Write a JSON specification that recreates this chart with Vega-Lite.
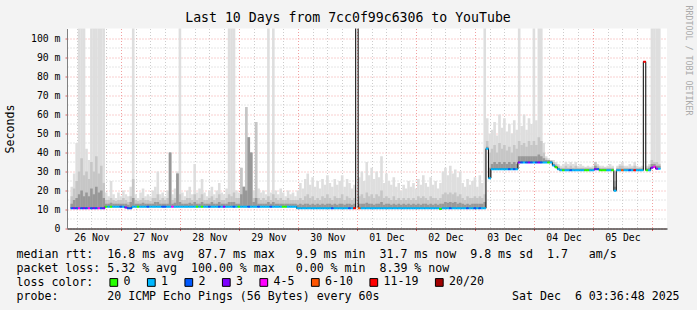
{
"$schema": "https://vega.github.io/schema/vega-lite/v6.json",
"width": 600, "height": 200,
"autosize": {"type": "none"},
"padding": {"left": 67, "top": 28.5, "right": 30, "bottom": 81.5},
"background": "#f3f3f3",
"config": {"view": {"stroke": null, "fill": "white"}, "font": "DejaVu Sans Mono"},
"title": {"text": "Last 10 Days from 7cc0f99c6306 to YouTube", "font": "DejaVu Sans Mono", "fontSize": 13.2, "fontWeight": "normal", "color": "#000000", "anchor": "middle", "dx": -19, "offset": -20},
"data": {"values": [
{"h":4,"m":10.6,"s":22,"d":17,"k":13,"l":"2"},
{"h":5,"m":10.6,"s":29,"d":21,"k":15,"l":"3"},
{"h":6,"m":10.6,"s":45,"d":25,"k":16,"l":"2"},
{"h":7,"m":10.6,"s":106,"d":30,"k":18,"l":"4-5"},
{"h":8,"m":10.6,"s":106,"d":37,"k":20,"l":"2"},
{"h":9,"m":10.6,"s":106,"d":28,"k":17,"l":"3"},
{"h":10,"m":10.6,"s":42,"d":30,"k":19,"l":"2"},
{"h":11,"m":10.6,"s":36,"d":26,"k":17,"l":"4-5"},
{"h":12,"m":10.6,"s":106,"d":35,"k":21,"l":"2"},
{"h":13,"m":10.6,"s":106,"d":30,"k":18,"l":"3"},
{"h":14,"m":10.6,"s":106,"d":38,"k":22,"l":"2"},
{"h":15,"m":10.6,"s":106,"d":29,"k":19,"l":"4-5"},
{"h":16,"m":10.6,"s":106,"d":33,"k":20,"l":"2"},
{"h":17,"m":10.6,"s":106,"d":24,"k":16,"l":"3"},
{"h":18,"m":11.5,"s":19,"d":15,"k":13,"l":"0"},
{"h":19,"m":11.5,"s":17,"d":15,"k":13,"l":"1"},
{"h":20,"m":11.5,"s":25,"d":16,"k":13.5,"l":"0"},
{"h":21,"m":11.5,"s":18,"d":15,"k":13,"l":"1"},
{"h":22,"m":11.5,"s":16,"d":14.5,"k":13,"l":"1"},
{"h":23,"m":11.5,"s":19,"d":15,"k":13,"l":"1"},
{"h":24,"m":11.5,"s":17,"d":15,"k":13,"l":"2"},
{"h":25,"m":11.5,"s":20,"d":16,"k":13,"l":"1"},
{"h":26,"m":11.0,"s":18,"d":15,"k":13,"l":"3"},
{"h":27,"m":10.6,"s":17,"d":14,"k":12.5,"l":"2"},
{"h":28,"m":10.6,"s":22,"d":17,"k":14,"l":"2"},
{"h":29,"m":11.5,"s":106,"d":26,"k":16,"l":"1"},
{"h":30,"m":11.5,"s":18,"d":15,"k":13,"l":"1"},
{"h":31,"m":11.5,"s":16,"d":14.5,"k":13,"l":"0"},
{"h":32,"m":11.5,"s":19,"d":15,"k":13,"l":"1"},
{"h":33,"m":11.5,"s":21,"d":16,"k":13.5,"l":"1"},
{"h":34,"m":11.5,"s":17,"d":15,"k":13,"l":"1"},
{"h":35,"m":11.5,"s":18,"d":15,"k":13,"l":"2"},
{"h":36,"m":11.5,"s":17,"d":14.5,"k":13,"l":"1"},
{"h":37,"m":11.5,"s":20,"d":16,"k":13,"l":"1"},
{"h":38,"m":11.5,"s":22,"d":16,"k":14,"l":"1"},
{"h":39,"m":11.5,"s":30,"d":18,"k":14,"l":"1"},
{"h":40,"m":11.5,"s":18,"d":15,"k":13,"l":"1"},
{"h":41,"m":11.5,"s":19,"d":16,"k":13,"l":"2"},
{"h":42,"m":11.5,"s":17,"d":15,"k":13,"l":"2"},
{"h":43,"m":11.5,"s":20,"d":16,"k":13,"l":"1"},
{"h":44,"m":11.5,"s":40,"d":40,"k":40,"l":"1"},
{"h":45,"m":11.5,"s":18,"d":15,"k":13,"l":"4-5"},
{"h":46,"m":11.5,"s":21,"d":16,"k":13.5,"l":"1"},
{"h":47,"m":11.5,"s":30,"d":29,"k":29,"l":"1"},
{"h":48,"m":11.5,"s":106,"d":18,"k":14,"l":"1"},
{"h":49,"m":11.5,"s":19,"d":15,"k":13,"l":"1"},
{"h":50,"m":11.5,"s":17,"d":15,"k":13,"l":"1"},
{"h":51,"m":11.5,"s":20,"d":16,"k":13,"l":"1"},
{"h":52,"m":11.5,"s":22,"d":16,"k":13.5,"l":"1"},
{"h":53,"m":11.5,"s":18,"d":15,"k":13,"l":"1"},
{"h":54,"m":11.5,"s":34,"d":18,"k":14,"l":"1"},
{"h":55,"m":11.5,"s":19,"d":15,"k":13,"l":"0"},
{"h":56,"m":11.5,"s":21,"d":16,"k":13,"l":"1"},
{"h":57,"m":11.5,"s":26,"d":18,"k":14,"l":"0"},
{"h":58,"m":11.5,"s":19,"d":15,"k":13,"l":"1"},
{"h":59,"m":11.5,"s":17,"d":15,"k":13,"l":"1"},
{"h":60,"m":11.5,"s":20,"d":16,"k":13,"l":"2"},
{"h":61,"m":11.5,"s":22,"d":17,"k":14,"l":"1"},
{"h":62,"m":11.5,"s":18,"d":15,"k":13,"l":"1"},
{"h":63,"m":11.5,"s":20,"d":16,"k":13,"l":"1"},
{"h":64,"m":11.5,"s":24,"d":18,"k":14,"l":"2"},
{"h":65,"m":11.5,"s":19,"d":15,"k":13,"l":"1"},
{"h":66,"m":11.5,"s":18,"d":15,"k":13,"l":"3"},
{"h":67,"m":11.5,"s":21,"d":16,"k":13,"l":"1"},
{"h":68,"m":11.5,"s":106,"d":18,"k":14,"l":"1"},
{"h":69,"m":11.5,"s":106,"d":17,"k":14,"l":"1"},
{"h":70,"m":11.5,"s":106,"d":19,"k":14,"l":"2"},
{"h":71,"m":11.5,"s":20,"d":16,"k":13,"l":"1"},
{"h":72,"m":11.5,"s":19,"d":16,"k":13,"l":"0"},
{"h":73,"m":11.5,"s":32,"d":32,"k":18,"l":"1"},
{"h":74,"m":11.5,"s":22,"d":22,"k":22,"l":"1"},
{"h":75,"m":11.5,"s":64,"d":64,"k":20,"l":"1"},
{"h":76,"m":11.5,"s":48,"d":48,"k":48,"l":"2"},
{"h":77,"m":11.5,"s":40,"d":40,"k":40,"l":"1"},
{"h":78,"m":11.5,"s":20,"d":16,"k":14,"l":"1"},
{"h":79,"m":11.5,"s":56,"d":56,"k":16,"l":"1"},
{"h":80,"m":11.5,"s":21,"d":16,"k":13,"l":"2"},
{"h":81,"m":11.5,"s":19,"d":15,"k":13,"l":"1"},
{"h":82,"m":11.5,"s":20,"d":16,"k":13,"l":"1"},
{"h":83,"m":11.5,"s":18,"d":15,"k":13,"l":"1"},
{"h":84,"m":11.5,"s":106,"d":17,"k":14,"l":"1"},
{"h":85,"m":11.5,"s":19,"d":15,"k":13,"l":"2"},
{"h":86,"m":11.5,"s":106,"d":18,"k":14,"l":"1"},
{"h":87,"m":11.5,"s":20,"d":16,"k":13,"l":"1"},
{"h":88,"m":11.5,"s":18,"d":15,"k":13,"l":"1"},
{"h":89,"m":11.5,"s":21,"d":16,"k":13,"l":"1"},
{"h":90,"m":11.5,"s":19,"d":15,"k":13,"l":"0"},
{"h":91,"m":11.5,"s":17,"d":15,"k":13,"l":"0"},
{"h":92,"m":11.5,"s":20,"d":16,"k":13,"l":"1"},
{"h":93,"m":11.5,"s":18,"d":15,"k":13,"l":"1"},
{"h":94,"m":11.5,"s":19,"d":15,"k":13,"l":"1"},
{"h":95,"m":11.5,"s":17,"d":15,"k":13,"l":"1"},
{"h":96,"m":10.6,"s":20,"d":15,"k":12.5,"l":"1"},
{"h":97,"m":10.6,"s":24,"d":16,"k":13,"l":"1"},
{"h":98,"m":10.6,"s":21,"d":15,"k":12.5,"l":"1"},
{"h":99,"m":10.6,"s":26,"d":17,"k":13,"l":"1"},
{"h":100,"m":10.6,"s":29,"d":18,"k":13,"l":"1"},
{"h":101,"m":10.6,"s":23,"d":16,"k":12.5,"l":"1"},
{"h":102,"m":10.6,"s":27,"d":17,"k":13,"l":"1"},
{"h":103,"m":10.6,"s":22,"d":15,"k":12.5,"l":"1"},
{"h":104,"m":10.6,"s":25,"d":16,"k":13,"l":"1"},
{"h":105,"m":10.6,"s":21,"d":15,"k":12.5,"l":"1"},
{"h":106,"m":10.6,"s":26,"d":17,"k":13,"l":"1"},
{"h":107,"m":10.6,"s":23,"d":16,"k":12.5,"l":"1"},
{"h":108,"m":10.6,"s":28,"d":18,"k":13,"l":"1"},
{"h":109,"m":10.6,"s":24,"d":16,"k":13,"l":"1"},
{"h":110,"m":10.6,"s":22,"d":15,"k":12.5,"l":"2"},
{"h":111,"m":10.6,"s":26,"d":17,"k":13,"l":"1"},
{"h":112,"m":10.6,"s":23,"d":16,"k":12.5,"l":"1"},
{"h":113,"m":10.6,"s":25,"d":16,"k":13,"l":"1"},
{"h":114,"m":10.6,"s":28,"d":18,"k":13,"l":"1"},
{"h":115,"m":10.6,"s":22,"d":15,"k":12.5,"l":"1"},
{"h":116,"m":10.6,"s":26,"d":17,"k":13,"l":"1"},
{"h":117,"m":10.6,"s":24,"d":16,"k":13,"l":"2"},
{"h":118,"m":10.6,"s":21,"d":15,"k":12.5,"l":"1"},
{"h":119,"m":10.6,"s":23,"d":16,"k":13,"l":"11-19"},
{"h":120,"m":110,"s":110,"d":110,"k":110,"l":"20/20"},
{"h":121,"m":10.6,"s":27,"d":17,"k":13,"l":"6-10"},
{"h":122,"m":10.6,"s":30,"d":18,"k":13,"l":"1"},
{"h":123,"m":10.6,"s":25,"d":16,"k":13,"l":"1"},
{"h":124,"m":10.6,"s":35,"d":19,"k":13.5,"l":"1"},
{"h":125,"m":10.6,"s":28,"d":17,"k":13,"l":"1"},
{"h":126,"m":10.6,"s":32,"d":18,"k":13,"l":"1"},
{"h":127,"m":10.6,"s":26,"d":16,"k":12.5,"l":"1"},
{"h":128,"m":10.6,"s":30,"d":18,"k":13,"l":"1"},
{"h":129,"m":10.6,"s":27,"d":17,"k":13,"l":"1"},
{"h":130,"m":10.6,"s":38,"d":20,"k":14,"l":"1"},
{"h":131,"m":10.6,"s":24,"d":16,"k":12.5,"l":"1"},
{"h":132,"m":10.6,"s":29,"d":17,"k":13,"l":"1"},
{"h":133,"m":10.6,"s":25,"d":16,"k":13,"l":"1"},
{"h":134,"m":10.6,"s":23,"d":15,"k":12.5,"l":"1"},
{"h":135,"m":10.6,"s":27,"d":17,"k":13,"l":"1"},
{"h":136,"m":10.6,"s":22,"d":15,"k":12.5,"l":"1"},
{"h":137,"m":10.6,"s":24,"d":16,"k":13,"l":"1"},
{"h":138,"m":10.6,"s":20,"d":15,"k":12.5,"l":"1"},
{"h":139,"m":10.6,"s":23,"d":16,"k":13,"l":"1"},
{"h":140,"m":10.6,"s":21,"d":15,"k":12.5,"l":"1"},
{"h":141,"m":10.6,"s":25,"d":16,"k":13,"l":"1"},
{"h":142,"m":10.6,"s":22,"d":15,"k":12.5,"l":"1"},
{"h":143,"m":10.6,"s":24,"d":16,"k":13,"l":"1"},
{"h":144,"m":10.6,"s":21,"d":15,"k":12.5,"l":"1"},
{"h":145,"m":10.6,"s":26,"d":17,"k":13,"l":"1"},
{"h":146,"m":10.6,"s":23,"d":16,"k":12.5,"l":"1"},
{"h":147,"m":10.6,"s":28,"d":17,"k":13,"l":"1"},
{"h":148,"m":10.6,"s":24,"d":16,"k":13,"l":"1"},
{"h":149,"m":10.6,"s":22,"d":15,"k":12.5,"l":"1"},
{"h":150,"m":10.6,"s":27,"d":17,"k":13,"l":"1"},
{"h":151,"m":10.6,"s":23,"d":16,"k":12.5,"l":"1"},
{"h":152,"m":10.6,"s":25,"d":16,"k":13,"l":"1"},
{"h":153,"m":10.6,"s":21,"d":15,"k":12.5,"l":"1"},
{"h":154,"m":10.3,"s":24,"d":16,"k":13,"l":"0"},
{"h":155,"m":10.6,"s":30,"d":18,"k":13,"l":"1"},
{"h":156,"m":10.6,"s":32,"d":19,"k":14,"l":"1"},
{"h":157,"m":10.6,"s":28,"d":18,"k":13.5,"l":"1"},
{"h":158,"m":10.6,"s":33,"d":19,"k":14,"l":"2"},
{"h":159,"m":10.6,"s":29,"d":18,"k":13.5,"l":"1"},
{"h":160,"m":10.6,"s":31,"d":19,"k":14,"l":"1"},
{"h":161,"m":10.6,"s":27,"d":17,"k":13,"l":"1"},
{"h":162,"m":10.6,"s":30,"d":18,"k":13.5,"l":"1"},
{"h":163,"m":10.6,"s":24,"d":16,"k":13,"l":"1"},
{"h":164,"m":10.6,"s":22,"d":15,"k":12.5,"l":"1"},
{"h":165,"m":10.6,"s":26,"d":17,"k":13,"l":"2"},
{"h":166,"m":10.6,"s":23,"d":16,"k":12.5,"l":"1"},
{"h":167,"m":10.6,"s":25,"d":16,"k":13,"l":"1"},
{"h":168,"m":10.6,"s":27,"d":17,"k":13,"l":"2"},
{"h":169,"m":10.6,"s":22,"d":16,"k":13,"l":"1"},
{"h":170,"m":10.6,"s":28,"d":17,"k":13,"l":"2"},
{"h":171,"m":10.6,"s":24,"d":16,"k":13,"l":"1"},
{"h":172,"m":10.6,"s":106,"d":18,"k":14,"l":"1"},
{"h":173,"m":42,"s":58,"d":46,"k":43,"l":"1"},
{"h":174,"m":26.5,"s":50,"d":40,"k":32,"l":"1"},
{"h":175,"m":31.2,"s":52,"d":42,"k":34,"l":"1"},
{"h":176,"m":31.2,"s":56,"d":44,"k":35,"l":"1"},
{"h":177,"m":31.2,"s":49,"d":40,"k":34,"l":"1"},
{"h":178,"m":31.2,"s":60,"d":45,"k":35,"l":"1"},
{"h":179,"m":31.2,"s":53,"d":42,"k":34,"l":"1"},
{"h":180,"m":31.2,"s":58,"d":44,"k":35,"l":"1"},
{"h":181,"m":31.2,"s":51,"d":41,"k":34,"l":"1"},
{"h":182,"m":31.2,"s":55,"d":43,"k":35,"l":"2"},
{"h":183,"m":31.2,"s":50,"d":40,"k":34,"l":"1"},
{"h":184,"m":31.2,"s":57,"d":44,"k":35,"l":"2"},
{"h":185,"m":31.2,"s":52,"d":42,"k":34,"l":"1"},
{"h":186,"m":34.8,"s":106,"d":46,"k":38,"l":"3"},
{"h":187,"m":34.8,"s":54,"d":44,"k":38,"l":"2"},
{"h":188,"m":34.8,"s":60,"d":45,"k":38,"l":"1"},
{"h":189,"m":34.8,"s":52,"d":43,"k":38,"l":"2"},
{"h":190,"m":34.8,"s":58,"d":46,"k":38,"l":"3"},
{"h":191,"m":34.8,"s":55,"d":44,"k":38,"l":"2"},
{"h":192,"m":34.8,"s":106,"d":46,"k":38,"l":"1"},
{"h":193,"m":34.8,"s":57,"d":44,"k":38,"l":"2"},
{"h":194,"m":34.8,"s":106,"d":48,"k":39,"l":"3"},
{"h":195,"m":34.8,"s":106,"d":46,"k":38,"l":"2"},
{"h":196,"m":34.8,"s":45,"d":40,"k":37,"l":"1"},
{"h":197,"m":34.8,"s":38,"d":37,"k":36,"l":"1"},
{"h":198,"m":34.8,"s":37,"d":36,"k":36,"l":"0"},
{"h":199,"m":34.8,"s":36,"d":36,"k":35.5,"l":"1"},
{"h":200,"m":33.2,"s":36,"d":35,"k":34,"l":"1"},
{"h":201,"m":32.3,"s":35,"d":34,"k":33,"l":"0"},
{"h":202,"m":31.2,"s":34,"d":33,"k":32,"l":"1"},
{"h":203,"m":30.6,"s":33,"d":32,"k":31.5,"l":"1"},
{"h":204,"m":30.6,"s":34,"d":32,"k":31.5,"l":"0"},
{"h":205,"m":30.6,"s":35,"d":33,"k":31.5,"l":"1"},
{"h":206,"m":30.6,"s":34,"d":32,"k":31.5,"l":"1"},
{"h":207,"m":30.6,"s":35,"d":33,"k":31.5,"l":"2"},
{"h":208,"m":30.6,"s":34,"d":32,"k":31.5,"l":"1"},
{"h":209,"m":30.6,"s":35,"d":33,"k":31.5,"l":"1"},
{"h":210,"m":30.6,"s":33,"d":32,"k":31.5,"l":"1"},
{"h":211,"m":30.6,"s":34,"d":32,"k":31.5,"l":"1"},
{"h":212,"m":30.6,"s":33,"d":32,"k":31.5,"l":"1"},
{"h":213,"m":30.6,"s":32.5,"d":32,"k":31.5,"l":"0"},
{"h":214,"m":30.6,"s":33,"d":32,"k":31.5,"l":"0"},
{"h":215,"m":30.6,"s":32.5,"d":32,"k":31.5,"l":"1"},
{"h":216,"m":30.6,"s":33,"d":32,"k":31.5,"l":"1"},
{"h":217,"m":31.2,"s":35,"d":35,"k":33,"l":"3"},
{"h":218,"m":31.2,"s":34,"d":33,"k":32,"l":"2"},
{"h":219,"m":30.6,"s":33,"d":32,"k":31.5,"l":"0"},
{"h":220,"m":30.6,"s":33,"d":32,"k":31.5,"l":"0"},
{"h":221,"m":30.6,"s":32.5,"d":32,"k":31.5,"l":"0"},
{"h":222,"m":30.6,"s":33,"d":32,"k":31.5,"l":"1"},
{"h":223,"m":30.6,"s":34,"d":32,"k":31.5,"l":"1"},
{"h":224,"m":30.6,"s":33,"d":32,"k":31.5,"l":"0"},
{"h":225,"m":19.9,"s":30,"d":25,"k":22,"l":"1"},
{"h":226,"m":30.6,"s":33,"d":32,"k":31.5,"l":"1"},
{"h":227,"m":30.6,"s":34,"d":33,"k":31.5,"l":"1"},
{"h":228,"m":30.6,"s":35,"d":33,"k":31.5,"l":"6-10"},
{"h":229,"m":30.6,"s":33,"d":32,"k":31.5,"l":"1"},
{"h":230,"m":30.6,"s":33,"d":32,"k":31.5,"l":"1"},
{"h":231,"m":30.6,"s":34,"d":32,"k":31.5,"l":"2"},
{"h":232,"m":30.6,"s":33,"d":32,"k":31.5,"l":"1"},
{"h":233,"m":30.6,"s":35,"d":33,"k":31.5,"l":"11-19"},
{"h":234,"m":30.6,"s":33,"d":32,"k":31.5,"l":"1"},
{"h":235,"m":30.6,"s":32.5,"d":32,"k":31.5,"l":"1"},
{"h":236,"m":30.6,"s":33,"d":32,"k":31.5,"l":"1"},
{"h":237,"m":87.8,"s":87.8,"d":87.8,"k":87.8,"l":"11-19"},
{"h":238,"m":30.6,"s":33,"d":32,"k":31.5,"l":"0"},
{"h":239,"m":30.6,"s":34,"d":33,"k":32,"l":"1"},
{"h":240,"m":32,"s":106,"d":36,"k":34,"l":"3"},
{"h":241,"m":32.5,"s":106,"d":35,"k":34,"l":"4-5"},
{"h":242,"m":31.5,"s":106,"d":35,"k":33,"l":"3"},
{"h":243,"m":31.5,"s":106,"d":34,"k":33,"l":"1"}
]},
"encoding": {
"x": {"field": "h", "type": "quantitative", "scale": {"domain": [4.1, 244.1], "nice": false, "zero": false},
"axis": {
"values": [6,12,18,24,30,36,42,48,54,60,66,72,78,84,90,96,102,108,114,120,126,132,138,144,150,156,162,168,174,180,186,192,198,204,210,216,222,228,234,240],
"labelExpr": "datum.value % 24 === 12 ? ['26 Nov','27 Nov','28 Nov','29 Nov','30 Nov','01 Dec','02 Dec','03 Dec','04 Dec','05 Dec'][floor(datum.value / 24)] : ''",
"labelFont": "DejaVu Sans Mono", "labelFontSize": 9.8, "labelColor": "#000000", "labelOverlap": false, "labelFlush": false, "labelPadding": 2,
"grid": true, "gridColor": {"condition": {"test": "datum.value % 24 === 0", "value": "#f2a0a0"}, "value": "#cccccc"}, "gridDash": [1, 2], "gridWidth": 1,
"ticks": true, "tickSize": 2, "tickColor": {"condition": {"test": "datum.value % 24 === 0", "value": "#e06060"}, "value": "rgba(0,0,0,0)"},
"domainColor": "#000000", "domainWidth": 1,
"title": ["median\u00a0rtt:\u00a0\u00a016.8\u00a0ms\u00a0avg\u00a0\u00a087.7\u00a0ms\u00a0max\u00a0\u00a0\u00a09.9\u00a0ms\u00a0min\u00a0\u00a031.7\u00a0ms\u00a0now\u00a0\u00a09.8\u00a0ms\u00a0sd\u00a0\u00a01.7\u00a0\u00a0\u00a0am/s",
"packet\u00a0loss:\u00a05.32\u00a0%\u00a0avg\u00a0\u00a0100.00\u00a0%\u00a0max\u00a0\u00a0\u00a00.00\u00a0%\u00a0min\u00a0\u00a08.39\u00a0%\u00a0now",
"loss\u00a0color:",
"probe:\u00a0\u00a0\u00a0\u00a0\u00a0\u00a0\u00a020\u00a0ICMP\u00a0Echo\u00a0Pings\u00a0(56\u00a0Bytes)\u00a0every\u00a060s\u00a0\u00a0\u00a0\u00a0\u00a0\u00a0\u00a0\u00a0\u00a0\u00a0\u00a0\u00a0\u00a0\u00a0\u00a0\u00a0\u00a0\u00a0\u00a0Sat\u00a0Dec\u00a0\u00a06\u00a003:36:48\u00a02025"],
"titleFont": "DejaVu Sans Mono", "titleFontSize": 11.6, "titleFontWeight": "normal", "titleColor": "#000000",
"titleAnchor": "start", "titleAlign": "left", "titleX": -51, "titleY": 20, "titleBaseline": "top", "titleLineHeight": 14
}}
},
"layer": [
{
"mark": {"type": "bar", "width": 2.6, "color": "#dedede", "clip": true},
"encoding": {
"y": {"field": "m", "type": "quantitative", "scale": {"domain": [0, 105.26], "nice": false, "zero": true},
"axis": {
"orient": "left",
"values": [0,5,10,15,20,25,30,35,40,45,50,55,60,65,70,75,80,85,90,95,100],
"labelExpr": "datum.value % 10 === 0 ? (datum.value === 0 ? '0\u00a0\u00a0' : datum.value + ' m') : ''",
"labelFont": "DejaVu Sans Mono", "labelFontSize": 9.8, "labelColor": "#000000", "labelPadding": 5, "labelOverlap": false, "labelFlush": false,
"ticks": true, "tickSize": 2, "tickColor": {"condition": {"test": "datum.value % 10 === 0", "value": "#e06060"}, "value": "rgba(0,0,0,0)"},
"grid": true, "gridColor": {"condition": {"test": "datum.value % 10 === 0", "value": "#f2a0a0"}, "value": "#cccccc"}, "gridDash": [1, 2], "gridWidth": 1,
"domainColor": "#808080", "domainWidth": 1,
"title": "Seconds", "titleFont": "DejaVu Sans Mono", "titleFontSize": 11.6, "titleFontWeight": "normal", "titleColor": "#000000", "titlePadding": 15
}},
"y2": {"field": "s"}
}
},
{
"mark": {"type": "bar", "width": 2.6, "color": "#c6c6c6", "clip": true},
"encoding": {
"y": {"field": "m", "type": "quantitative",
"axis": {"orient": "right", "domain": false, "ticks": false, "labels": false, "grid": false,
"title": "RRDTOOL / TOBI OETIKER", "titleAngle": 90, "titleFont": "DejaVu Sans Mono", "titleFontSize": 8.3, "titleFontWeight": "normal", "titleColor": "#aaaaaa",
"titleX": 20.5, "titleY": -23.5, "titleAlign": "left", "titleBaseline": "middle"}},
"y2": {"field": "d"}
}
},
{
"mark": {"type": "bar", "width": 2.6, "color": "#989898", "clip": true},
"encoding": {
"y": {"field": "m", "type": "quantitative", "axis": null},
"y2": {"field": "k"}
}
},
{
"mark": {"type": "line", "interpolate": "step", "color": "#000000", "strokeWidth": 1, "clip": true},
"encoding": {
"y": {"field": "m", "type": "quantitative", "axis": null}
}
},
{
"mark": {"type": "tick", "orient": "horizontal", "size": 2.6, "thickness": 2, "opacity": 1, "clip": true},
"encoding": {
"y": {"field": "m", "type": "quantitative", "axis": null},
"color": {"field": "l", "type": "nominal",
"scale": {"domain": ["0","1","2","3","4-5","6-10","11-19","20/20"], "range": ["#26ff00","#00b8ff","#0059ff","#7e00ff","#ff00ff","#ff5500","#ff0000","#a10000"]},
"legend": {"orient": "none", "legendX": 41, "legendY": 248, "direction": "horizontal", "columns": 8,
"title": null,
"labelFont": "DejaVu Sans Mono", "labelFontSize": 11.6, "labelColor": "#000000", "labelOffset": 4, "columnPadding": 13.5,
"symbolType": "square", "symbolSize": 60, "symbolStrokeColor": "#000000", "symbolStrokeWidth": 1, "symbolOpacity": 1}}
}
}
],
"resolve": {"scale": {"y": "shared", "x": "shared"}, "axis": {"y": "independent"}}
}
